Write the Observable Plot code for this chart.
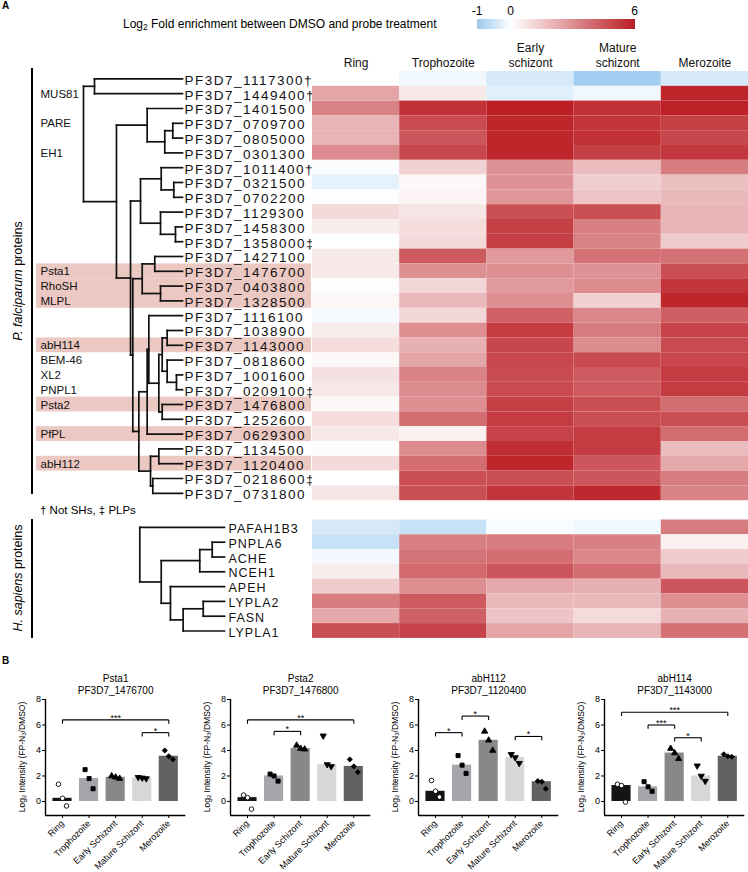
<!DOCTYPE html>
<html><head><meta charset="utf-8">
<script src="https://cdn.jsdelivr.net/npm/d3@7"></script>
<script src="https://cdn.jsdelivr.net/npm/@observablehq/plot@0.6"></script>
<style>
body{margin:0;background:#fff;font-family:"Liberation Sans",Arial,sans-serif;}
#fig{position:relative;width:748px;height:872px;overflow:hidden;background:#fff;}
#fig > *{position:absolute;}
.lbl{white-space:nowrap;color:#000;}
.vline{background:#000;width:2px;}
.sub{font-size:0.7em;vertical-align:-0.25em;}
</style></head><body><div id="fig"></div>
<script>
// ---------------- DATA ----------------
const stagesA = ["Ring", "Trophozoite", "Early schizont", "Mature schizont", "Merozoite"];
const pfGenes = ["PF3D7_1117300","PF3D7_1449400","PF3D7_1401500","PF3D7_0709700","PF3D7_0805000","PF3D7_0301300","PF3D7_1011400","PF3D7_0321500","PF3D7_0702200","PF3D7_1129300","PF3D7_1458300","PF3D7_1358000","PF3D7_1427100","PF3D7_1476700","PF3D7_0403800","PF3D7_1328500","PF3D7_1116100","PF3D7_1038900","PF3D7_1143000","PF3D7_0818600","PF3D7_1001600","PF3D7_0209100","PF3D7_1476800","PF3D7_1252600","PF3D7_0629300","PF3D7_1134500","PF3D7_1120400","PF3D7_0218600","PF3D7_0731800"];
const pfNotSH = ["PF3D7_1117300","PF3D7_1449400","PF3D7_1011400"];
const pfPLP = ["PF3D7_1358000","PF3D7_0209100","PF3D7_0218600"];
const pfRing        = [0, 2.4, 3.3, 2.0, 2.0, 3.1, -0.05, -0.25, -0.03, 1.0, 0.5, 0, 0.6, 0.6, 0.05, 0.25, -0.12, 0.5, 0.9, 0.2, 0.8, 0.6, 0.2, 0.9, 0.6, 0.05, 1.0, 0, 0.7];
const pfTrophozoite = [-0.15, 0.6, 5.5, 4.8, 4.5, 4.9, 1.2, 0.2, 0.3, 0.7, 0.9, 1.0, 4.4, 3.0, 1.1, 1.9, 1.1, 3.0, 2.1, 2.4, 3.3, 3.1, 3.0, 3.9, 0.4, 3.1, 3.9, 4.7, 4.7];
const pfEarly       = [-0.4, -0.3, 6.0, 5.8, 5.8, 5.8, 2.9, 2.9, 2.8, 4.7, 5.1, 5.1, 2.7, 3.0, 2.7, 3.0, 4.2, 5.2, 4.9, 4.9, 4.8, 4.8, 5.1, 5.2, 5.0, 5.6, 5.8, 4.7, 5.4];
const pfMature      = [-0.9, -0.15, 5.5, 5.4, 5.5, 5.1, 1.8, 1.3, 1.6, 4.7, 3.4, 3.3, 3.8, 2.9, 3.1, 1.2, 3.2, 3.5, 3.1, 4.8, 4.4, 4.4, 4.7, 4.7, 5.2, 5.2, 4.5, 4.5, 5.7];
const pfMerozoite   = [-0.4, 5.8, 5.9, 5.1, 4.9, 5.3, 3.5, 1.7, 1.9, 2.0, 2.0, 1.4, 3.8, 4.7, 5.4, 5.8, 4.3, 5.0, 4.8, 4.9, 5.2, 5.2, 3.9, 4.7, 3.9, 1.8, 2.3, 3.5, 3.3];

const hsGenes = ["PAFAH1B3","PNPLA6","ACHE","NCEH1","APEH","LYPLA2","FASN","LYPLA1"];
const hsRing        = [-0.4, -0.55, -0.13, 0.5, 1.4, 3.5, 2.3, 4.7];
const hsTrophozoite = [-0.55, 3.4, 3.7, 4.0, 3.0, 4.4, 4.2, 5.0];
const hsEarly       = [-0.06, 3.5, 3.9, 4.5, 2.3, 1.9, 1.6, 2.4];
const hsMature      = [-0.15, 3.4, 3.2, 3.9, 2.1, 1.9, 1.0, 2.0];
const hsMerozoite   = [3.5, 0.4, 1.4, 1.9, 4.5, 3.0, 2.1, 3.8];

// dendrograms: [node depth (0 = root, 1 = leaves), child, child]
const pfTree = [0,
  [0.111, "PF3D7_1117300", "PF3D7_1449400"],
  [0.333,
    [0.643, "PF3D7_1401500", [0.821, [0.902, "PF3D7_0709700", "PF3D7_0805000"], "PF3D7_0301300"]],
    [0.475,
      [0.576,
        [0.785, "PF3D7_1011400", [0.912, "PF3D7_0321500", "PF3D7_0702200"]],
        [0.778, "PF3D7_1129300", [0.929, "PF3D7_1458300", "PF3D7_1358000"]]],
      [0.498,
        [0.593, [0.720, "PF3D7_1427100", "PF3D7_1476700"], [0.778, "PF3D7_0403800", "PF3D7_1328500"]],
        [0.559,
          [0.643,
            [0.660, "PF3D7_1116100",
              [0.761,
                [0.795, [0.845, "PF3D7_1038900", "PF3D7_1143000"], [0.845, "PF3D7_0818600", [0.939, "PF3D7_1001600", "PF3D7_0209100"]]],
                [0.795, "PF3D7_1476800", "PF3D7_1252600"]]],
            "PF3D7_0629300"],
          [0.677, [0.761, "PF3D7_1134500", "PF3D7_1120400"], [0.700, "PF3D7_0218600", "PF3D7_0731800"]]]]]]];
const hsTree = [0, "PAFAH1B3",
  [0.253,
    [0.708, [0.855, "PNPLA6", "ACHE"], "NCEH1"],
    [0.362, "APEH", [0.512, [0.749, "LYPLA2", "FASN"], "LYPLA1"]]]];

const pfHighlight = ["PF3D7_1476700","PF3D7_0403800","PF3D7_1328500","PF3D7_1143000","PF3D7_1476800","PF3D7_0629300","PF3D7_1120400"];
const groupLabels = ["MUS81","PARE","EH1","Psta1","RhoSH","MLPL","abH114","BEM-46","XL2","PNPL1","Psta2","PfPL","abH112"];
const groupRows   = ["PF3D7_1449400","PF3D7_0709700","PF3D7_0301300","PF3D7_1476700","PF3D7_0403800","PF3D7_1328500","PF3D7_1143000","PF3D7_0818600","PF3D7_1001600","PF3D7_0209100","PF3D7_1476800","PF3D7_0629300","PF3D7_1120400"];
const legendTicks = [-1, 0, 6];

// panel B
const stagesB = ["Ring","Trophozoite","Early Schizont","Mature Schizont","Merozoite"];
const bTitles = ["Psta1","Psta2","abH112","abH114"];
const bIds = ["PF3D7_1476700","PF3D7_1476800","PF3D7_1120400","PF3D7_1143000"];
const psta1Reps  = [[1.35, 0.25, -0.35], [2.5, 1.8, 1.0], [2.0, 1.9, 1.8], [1.9, 1.85, 1.8], [4.0, 3.55, 3.3]];
const psta2Reps  = [[0.5, 0.3, -0.6], [2.15, 2.0, 1.6], [4.4, 4.15, 4.1], [5.15, 2.9, 2.75], [3.3, 2.75, 2.3]];
const abh112Reps = [[1.65, 0.8, 0.35], [3.6, 2.85, 2.2], [5.5, 4.8, 4.0], [3.7, 3.45, 3.0], [1.6, 1.55, 1.0]];
const abh114Reps = [[1.35, 1.25, -0.05], [1.55, 1.15, 0.8], [4.15, 3.8, 3.35], [2.8, 2.0, 1.6], [3.7, 3.55, 3.5]];
const psta1Sig  = [["Ring","Merozoite",6.4,"***"], ["Mature Schizont","Merozoite",5.4,"*"]];
const psta2Sig  = [["Ring","Merozoite",6.4,"**"], ["Trophozoite","Early Schizont",5.5,"*"]];
const abh112Sig = [["Ring","Trophozoite",5.4,"*"], ["Trophozoite","Early Schizont",6.7,"*"], ["Mature Schizont","Merozoite",5.1,"*"]];
const abh114Sig = [["Ring","Merozoite",7.0,"***"], ["Trophozoite","Early Schizont",6.0,"***"], ["Early Schizont","Mature Schizont",5.0,"*"]];

// ---------------- STYLE ----------------
const FONT = "'Liberation Sans', Arial, Helvetica, sans-serif";
const svgStyle = `font-family:${FONT};background:transparent;overflow:visible;`;
const heatDomain = [-1, 0, 6];
const heatRange = ["#99c9ef", "#ffffff", "#bb1e24"];
const heatColor = {type: "linear", domain: heatDomain, range: heatRange};
const stageFill = ["#141414","#a5a5ab","#888888","#d7d7d7","#626262"];
const stageSymbol = ["circle","square","triangle","triangle","diamond2"];

const fig = document.getElementById("fig");
function place(el, left, top) { el.style.position = "absolute"; el.style.left = left + "px"; el.style.top = top + "px"; fig.appendChild(el); return el; }
function html(s, left, top, css) { const d = document.createElement("div"); d.className = "lbl"; d.innerHTML = s; d.style.cssText += css || ""; return place(d, left, top); }

function layoutTree(tree) {
  const leaves = [], links = [];
  (function walk(n) {
    if (typeof n === "string") { const y = leaves.length + 0.5; leaves.push(n); return {x: 1, y}; }
    const [h, ...kids] = n;
    const pts = kids.map(walk);
    const ys = pts.map(p => p.y);
    links.push({x1: h, x2: h, y1: d3.min(ys), y2: d3.max(ys)});
    for (const p of pts) links.push({x1: h, x2: p.x, y1: p.y, y2: p.y});
    return {x: h, y: d3.mean(ys)};
  })(tree);
  return {leaves, links};
}

// ---------------- LEGEND (colour ramp of the heatmap scale) ----------------
const legX = d3.scaleLinear().domain(heatDomain).range([477, 510.5, 634.5]);
const legW = 634.5 - 477;
const stops = heatDomain.map((v, i) => `${heatRange[i]} ${((legX(v) - 477) / legW * 100).toFixed(1)}%`).join(",");
const bar = document.createElement("div");
bar.style.cssText = `width:${legW}px;height:10px;background:linear-gradient(to right, ${stops});`;
place(bar, 477, 19);
legendTicks.forEach(t => html(String(t), legX(t), 4, "font-size:12px;line-height:14px;transform:translateX(-50%);"));
html('Log<span class="sub">2</span> Fold enrichment between DMSO and probe treatment', 123, 17, "font-size:12px;line-height:14px;");
html("A", 2, 0, "font-size:10px;font-weight:bold;");

// ---------------- PANEL A : dendrograms ----------------
const pfLayout = layoutTree(pfTree);
const pfDen = Plot.plot({
  width: 312, height: 505, marginLeft: 36, marginRight: 1, marginTop: 71, marginBottom: 4.8,
  style: svgStyle,
  x: {domain: [0, 1], range: [83, 182], axis: null},
  y: {domain: [0, pfLayout.leaves.length], range: [71, 500.2], axis: null},
  marks: [
    Plot.rect(pfHighlight, {y1: d => pfGenes.indexOf(d), y2: d => pfGenes.indexOf(d) + 1, fill: "#ecc8c2"}),
    Plot.link(pfLayout.links, {x1: "x1", x2: "x2", y1: "y1", y2: "y2", stroke: "#111", strokeWidth: 1.7, strokeLinecap: "square"}),
    Plot.text(pfLayout.leaves, {x: 1, y: (d, i) => i + 0.5, dx: 2, dy: 1.5, textAnchor: "start", fontSize: 13.5, fill: "#111",
      text: d => d + (pfNotSH.includes(d) ? "\u2020" : pfPLP.includes(d) ? "\u2021" : "")}),
    Plot.text(groupLabels, {y: (d, i) => pfGenes.indexOf(groupRows[i]) + 0.5, frameAnchor: "left", dx: 4, dy: 0.5, textAnchor: "start", fontSize: 11.5, fill: "#111"})
  ]
});
pfDen.querySelectorAll("text").forEach(t => { if (t.textContent.startsWith("PF3D7")) t.style.letterSpacing = "1.5px"; });
place(pfDen, 0, 0);

const hsLayout = layoutTree(hsTree);
const hsDen = Plot.plot({
  width: 312, height: 645, marginLeft: 36, marginRight: 1, marginTop: 519.5, marginBottom: 7.1,
  style: svgStyle,
  x: {domain: [0, 1], range: [139.3, 224], axis: null},
  y: {domain: [0, hsLayout.leaves.length], range: [519.5, 637.9], axis: null},
  marks: [
    Plot.link(hsLayout.links, {x1: "x1", x2: "x2", y1: "y1", y2: "y2", stroke: "#111", strokeWidth: 1.7, strokeLinecap: "square"}),
    Plot.text(hsLayout.leaves, {x: 1, y: (d, i) => i + 0.5, dx: 4, dy: 1.5, textAnchor: "start", fontSize: 12.5, fill: "#111"})
  ]
});
hsDen.querySelectorAll("text").forEach(t => { t.style.letterSpacing = "1px"; });
place(hsDen, 0, 0);

// ---------------- PANEL A : heatmaps ----------------
const pfCols = [pfRing, pfTrophozoite, pfEarly, pfMature, pfMerozoite];
const hsCols = [hsRing, hsTrophozoite, hsEarly, hsMature, hsMerozoite];
const pfCells = pfGenes.flatMap((g, i) => stagesA.map((s, j) => ({gene: g, stage: s, value: pfCols[j][i]})));
const hsCells = hsGenes.flatMap((g, i) => stagesA.map((s, j) => ({gene: g, stage: s, value: hsCols[j][i]})));

place(Plot.plot({
  width: 748, height: 505, marginLeft: 312, marginRight: 0, marginTop: 71, marginBottom: 4.8,
  style: svgStyle,
  x: {domain: stagesA, padding: 0, round: false, axis: null},
  y: {domain: pfGenes, padding: 0, round: false, range: [71, 500.2], axis: null},
  color: heatColor,
  marks: [
    Plot.cell(pfCells, {x: "stage", y: "gene", fill: "value"}),
    Plot.text(stagesA, {x: d => d, frameAnchor: "top", dy: -5, lineAnchor: "bottom", lineHeight: 1.17, fontSize: 12, fill: "#111",
      text: d => d.replace(" ", "\n")})
  ]
}), 0, 0);

place(Plot.plot({
  width: 748, height: 645, marginLeft: 312, marginRight: 0, marginTop: 519.5, marginBottom: 7.1,
  style: svgStyle,
  x: {domain: stagesA, padding: 0, round: false, axis: null},
  y: {domain: hsGenes, padding: 0, round: false, range: [519.5, 637.9], axis: null},
  color: heatColor,
  marks: [Plot.cell(hsCells, {x: "stage", y: "gene", fill: "value"})]
}), 0, 0);

// brackets and side labels
const b1 = document.createElement("div"); b1.className = "vline"; b1.style.height = (494 - 68) + "px"; place(b1, 31, 68);
const b2 = document.createElement("div"); b2.className = "vline"; b2.style.height = (638 - 519) + "px"; place(b2, 31, 519);
html("<i>P. falciparum</i> proteins", 18, 281, "font-size:12.5px;transform:translate(-50%,-50%) rotate(-90deg);");
html("<i>H. sapiens</i> proteins", 18, 578, "font-size:12.5px;transform:translate(-50%,-50%) rotate(-90deg);");
html("\u2020 Not SHs, \u2021 PLPs", 40, 503, "font-size:11.5px;line-height:14px;");

// ---------------- PANEL B ----------------
html("B", 2, 655, "font-size:10px;font-weight:bold;");
function barPanel(title, id, reps, sig, left) {
  const pts = reps.flatMap((vs, si) => vs.map((v, r) => ({si, v, r})));
  const bars = reps.map((vs, si) => ({si, m: d3.median(vs)}));
  const sg = sig.map(([a, b, lvl, lab]) => ({a: stagesB.indexOf(a), b: stagesB.indexOf(b), lvl, lab}));
  const xDom = [-0.64, 4.64], yDom = [-1.1, 8], leg = 0.3;
  const p = Plot.plot({
    width: 187, height: 207, marginLeft: 45, marginRight: 1.7, marginTop: 34, marginBottom: 57,
    style: svgStyle,
    x: {domain: xDom}, y: {domain: yDom},
    color: {type: "identity"},
    marks: [
      Plot.rect(bars, {x1: d => d.si - 0.36, x2: d => d.si + 0.36, y1: 0, y2: "m", fill: d => stageFill[d.si]}),
      ...[-4, 0, 4].map((dx, r) => Plot.dot(pts, {filter: d => d.r === r, x: "si", y: "v", dx, r: 2.3,
        symbol: d => stageSymbol[d.si], rotate: d => (d.si === 3 ? 180 : 0),
        fill: d => (d.si === 0 ? "white" : "black"), stroke: "black", strokeWidth: 0.9})),
      Plot.link(sg, {x1: "a", x2: "b", y1: "lvl", y2: "lvl", stroke: "black", strokeWidth: 1.1}),
      Plot.link(sg, {x1: "a", x2: "a", y1: "lvl", y2: d => d.lvl - leg, stroke: "black", strokeWidth: 1.1}),
      Plot.link(sg, {x1: "b", x2: "b", y1: "lvl", y2: d => d.lvl - leg, stroke: "black", strokeWidth: 1.1}),
      Plot.text(sg, {x: d => (d.a + d.b) / 2, y: "lvl", text: "lab", dy: 1, lineAnchor: "bottom", fontSize: 9, fill: "black"}),
      Plot.ruleX([xDom[0]], {stroke: "black", strokeWidth: 1.4}),
      Plot.ruleY([yDom[0]], {stroke: "black", strokeWidth: 1.4}),
      Plot.axisY({ticks: [0, 2, 4, 6, 8], tickSize: 3, tickPadding: 1.5, fontSize: 9, label: null}),
      Plot.axisX({ticks: [0, 1, 2, 3, 4], tickFormat: i => stagesB[i], tickRotate: -45, tickSize: 3, tickPadding: 3.5, fontSize: 9, label: null}),
      Plot.text([title + "\n" + id], {frameAnchor: "top", dy: -6, lineAnchor: "bottom", lineHeight: 1.2, fontSize: 10, fill: "black"})
    ]
  });
  place(p, left, 665);
  html('Log<span class="sub">2</span> Intensity (FP-N<span class="sub">3</span>/DMSO)', left + 22, 757,
    "font-size:8.5px;transform:translate(-50%,-50%) rotate(-90deg);");
}
barPanel(bTitles[0], bIds[0], psta1Reps, psta1Sig, 0);
barPanel(bTitles[1], bIds[1], psta2Reps, psta2Sig, 185);
barPanel(bTitles[2], bIds[2], abh112Reps, abh112Sig, 373);
barPanel(bTitles[3], bIds[3], abh114Reps, abh114Sig, 559);
</script></body></html>
